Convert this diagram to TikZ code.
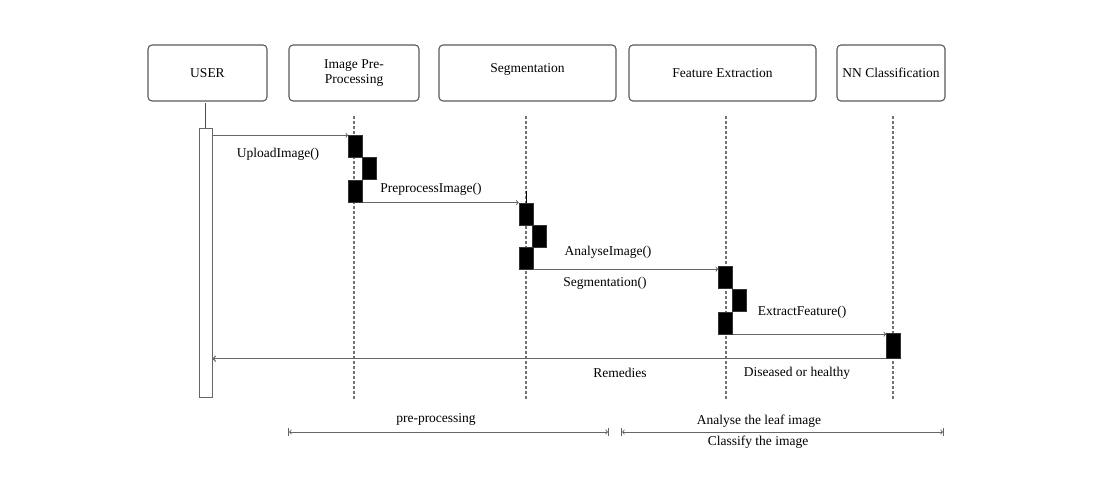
\documentclass[tikz,border=0pt]{standalone}
\usepackage{fontspec}
\setmainfont{Liberation Serif}
\usetikzlibrary{arrows}

\tikzset{
  head/.style={draw=black!65, line width=1.1pt, rounded corners=4pt, align=center,
    minimum height=56pt, inner sep=1pt, font=\fontsize{13.5}{15}\selectfont},
  lifeline/.style={draw=black!55, line width=1.1pt, dash pattern=on 3pt off 2pt},
  act/.style={fill=black, draw=black!80, minimum width=14pt, minimum height=22pt, inner sep=0pt},
  msg/.style={draw=black!60, line width=0.9pt, ->, >=to},
  lbl/.style={font=\fontsize{13.5}{15}\selectfont, text=black, inner sep=1pt},
  span/.style={draw=black!60, line width=0.9pt, |<->|}
}

\begin{document}
\begin{tikzpicture}[x=1pt,y=-1pt]
    \useasboundingbox (0,0) rectangle (1093,494);

    % heads
    \node[head, minimum width=119pt] (user) at (207.5,73) {USER};
    \node[head, minimum width=130pt] (ipp) at (354,73) {Image Pre-\\Processing};
    \node[head, minimum width=177pt, text depth=9pt] (seg) at (527.5,73) {Segmentation};
    \node[head, minimum width=187pt] (fe) at (722.5,73) {Feature Extraction};
    \node[head, minimum width=108pt] (nn) at (891,73) {NN Classification};

    % lifelines
    \foreach \n/\x in {ipp/354, seg/526, fe/726, nn/893}
    {
      \path (\x,116) coordinate (\n-t) (\x,400) coordinate (\n-b);
      \draw[lifeline] (\n-t) to (\n-b);
    }

    % user bar
    \node[draw=black!60, thick, fill=white, minimum width=13pt, minimum height=269pt, inner sep=0pt] (ubar) at (205.5,262.5) {};
    \path (205.5,103) coordinate (u0);
    \draw[black!70, thick] (u0) to (ubar.north);

    % activations
    \foreach \n/\x/\y in {ipp1/355.5/146.5, ipp2/369/168.5, ipp3/355.5/191.5,
                          seg1/526/214, seg2/539.5/236, seg3/526/258,
                          fe1/725.5/277, fe2/739/300, fe3/725.5/323}
    { \node[act] (\n) at (\x,\y) {}; }
    \node[act, minimum height=25pt] (nn1) at (893.5,346) {};
    \path (526,191) coordinate (seg0);
    \draw[black, thick] (seg0) to (seg1.north);

    % messages
    \draw[msg] (ubar.east |- ipp1.north west) to (ipp1.north west);
    \draw[msg] (ipp3.south east) to (ipp3.south east -| seg1.west);
    \draw[msg] (seg3.south east) to (seg3.south east -| fe1.west);
    \draw[msg] (fe3.south east) to (fe3.south east -| nn1.west);
    \draw[msg, line width=1.3pt] (nn1.south west) to (nn1.south west -| ubar.east);

    \node[lbl] (m1) at (278,154) {UploadImage()};
    \node[lbl] (m2) at (431,189) {PreprocessImage()};
    \node[lbl] (m3) at (608,252) {AnalyseImage()};
    \node[lbl] (m4) at (605,283) {Segmentation()};
    \node[lbl] (m5) at (802,312) {ExtractFeature()};
    \node[lbl] (r1) at (620,373) {Remedies};
    \node[lbl] (r2) at (797,373) {Diseased or healthy};

    % spans
    \path (288,432) coordinate (pp-l) (609,432) coordinate (pp-r);
    \path (621,432) coordinate (cl-l) (944,432) coordinate (cl-r);
    \draw[span] (pp-l) to (pp-r);
    \draw[span] (cl-l) to (cl-r);
    \node[lbl] (s1) at (436,419) {pre-processing};
    \node[lbl] (s2) at (759,421) {Analyse the leaf image};
    \node[lbl] (s3) at (758,442) {Classify the image};

\end{tikzpicture}
\end{document}
